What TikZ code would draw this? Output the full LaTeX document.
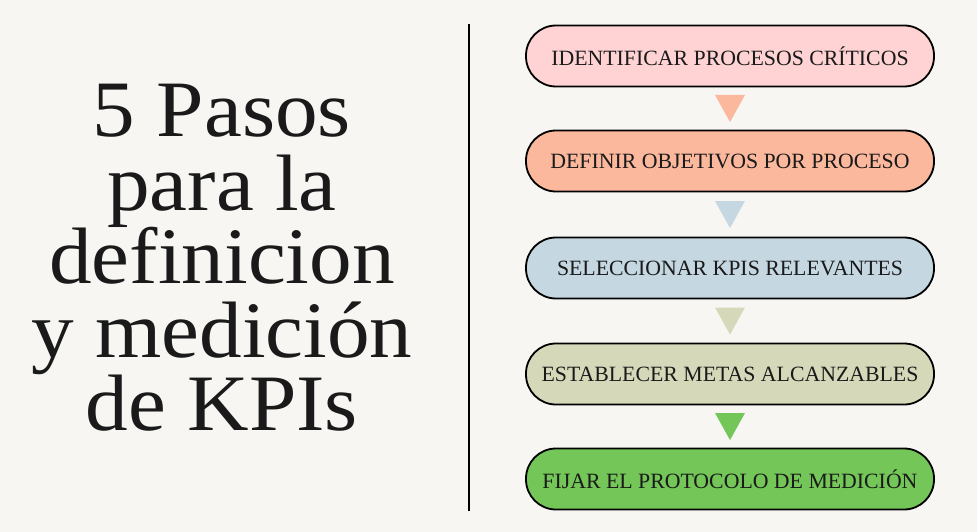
\documentclass[tikz,border=0pt]{standalone}
\usepackage{fontspec}
\setmainfont{Liberation Serif}
\newfontfamily\titlefont[FakeStretch=1.065]{Liberation Serif}
\usetikzlibrary{calc}
\definecolor{bg}{HTML}{F7F6F3}
\definecolor{c1}{HTML}{FFD3D3}
\definecolor{c2}{HTML}{FBB89C}
\definecolor{c3}{HTML}{C5D7E1}
\definecolor{c4}{HTML}{D6D9B9}
\definecolor{c5}{HTML}{73C657}
\definecolor{txt}{HTML}{1A1A1A}
\tikzset{
  stepbox/.style={draw=black, line width=1.8pt, rounded corners=30pt,
    minimum width=408pt, minimum height=61pt, inner sep=0pt,
    font=\fontsize{21.8}{24}\selectfont, text=txt},
  tri/.style={fill=#1, draw=none}
}
\begin{document}
\begin{tikzpicture}[x=1pt,y=-1pt]
\fill[bg] (0,0) rectangle (977,532);
\useasboundingbox (0,0) rectangle (977,532);
\node[align=center, font=\titlefont\fontsize{80}{73.5}\selectfont, text=txt, inner sep=0pt] (title) at (222,258)
  {5 Pasos\\para la\\definicion\\y medición\\de KPIs};
\coordinate (lt) at (469,24);
\coordinate (lb) at (469,511);
\draw[line width=2pt, black] (lt) -- (lb);
\node[stepbox, fill=c1] (b1) at (730,56) {IDENTIFICAR PROCESOS CRÍTICOS};
\node[stepbox, fill=c2] (b2) at (730,161) {DEFINIR OBJETIVOS POR PROCESO};
\node[stepbox, fill=c3] (b3) at (730,268) {SELECCIONAR KPIS RELEVANTES};
\node[stepbox, fill=c4] (b4) at (730,374) {ESTABLECER METAS ALCANZABLES};
\node[stepbox, fill=c5] (b5) at (730,479) {FIJAR EL PROTOCOLO DE MEDICIÓN};
\foreach \a/\b/\c in {b1/b2/c2, b2/b3/c3, b3/b4/c4, b4/b5/c5}{
  \coordinate (m) at ($(\a.south)!0.5!(\b.north)$);
  \fill[\c] ($(m)+(-15,-13.5)$) -- ($(m)+(15,-13.5)$) -- ($(m)+(0,13.5)$) -- cycle;
}
\end{tikzpicture}
\end{document}
